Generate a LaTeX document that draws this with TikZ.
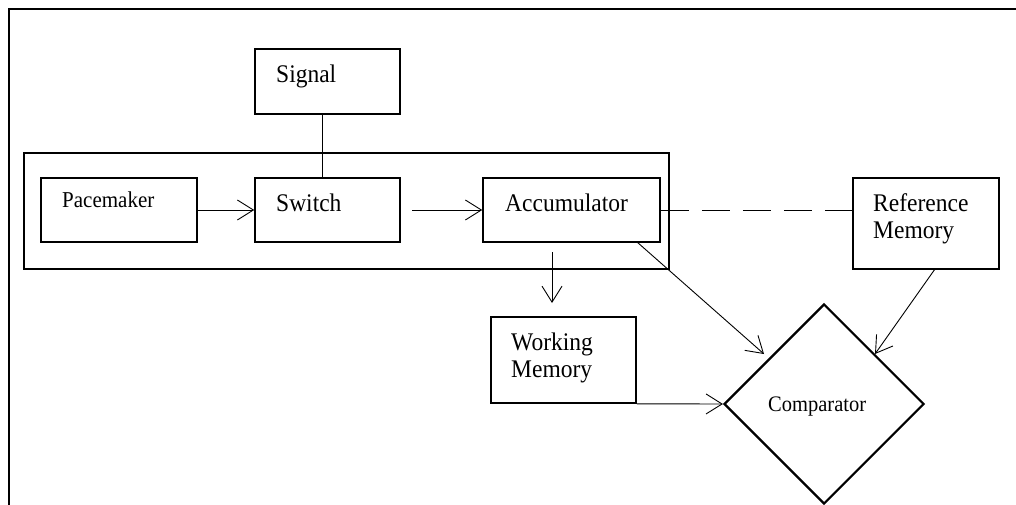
\documentclass[tikz,border=0pt]{standalone}
\usepackage{fontspec}
\usepackage{graphicx}
\setmainfont{Liberation Serif}
\usetikzlibrary{arrows.meta,shapes.geometric,calc}
\newcommand{\tallbox}[1]{\scalebox{1}[1.08]{#1}}
\begin{document}
\begin{tikzpicture}[x=1pt,y=-1pt,
  box/.style={draw, line width=1.6pt, inner sep=0pt, rectangle},
  outerbox/.style={draw, line width=2.8pt, inner sep=0pt, rectangle},
  arr/.style={line width=0.9pt, -{Straight Barb[length=16pt,width=20pt,line width=0.9pt]}},
  conn/.style={line width=0.9pt},
  lbl/.style={inner sep=0pt, anchor=base west, font=\fontsize{23.5}{27}\selectfont},
  lblsmall/.style={inner sep=0pt, anchor=base west, font=\fontsize{21}{25}\selectfont},
]
\useasboundingbox (0,0) rectangle (1016,505);
% page frame (top and left edges)
\draw[line width=2.2pt] (9,505) -- (9,9) -- (1016,9);

% outer grouping box
\node[outerbox, minimum width=645pt, minimum height=116pt] (group) at (346.5,211) {};

% boxes
\node[box, minimum width=145pt, minimum height=65pt] (signal) at (327.5,81.5) {};
\node[box, minimum width=156pt, minimum height=64pt] (pace) at (119,210) {};
\node[box, minimum width=145pt, minimum height=64pt] (switch) at (327.5,210) {};
\node[box, minimum width=177pt, minimum height=64pt] (acc) at (571.5,210) {};
\node[box, minimum width=146pt, minimum height=91pt] (ref) at (926,223.5) {};
\node[box, minimum width=145pt, minimum height=86pt] (work) at (563.5,360) {};
\node[draw, diamond, line width=2.2pt, inner sep=0pt, minimum width=200pt, minimum height=200pt] (comp) at (824,404) {};

% texts
\node[lbl] (tsignal) at (276,83) {\tallbox{Signal}};
\node[lblsmall] (tpace) at (62,207) {\tallbox{Pacemaker}};
\node[lbl] (tswitch) at (276,211) {\tallbox{Switch}};
\node[lbl] (tacc) at (505,211) {\tallbox{Accumulator}};
\node[lbl] (tref1) at (873,211) {\tallbox{Reference}};
\node[lbl] (tref2) at (873,238) {\tallbox{Memory}};
\node[lbl] (twork1) at (511,350) {\tallbox{Working}};
\node[lbl] (twork2) at (511,377) {\tallbox{Memory}};
\node[lblsmall, font=\fontsize{20.5}{25}\selectfont] (tcomp) at (768,411) {\tallbox{Comparator}};

% connector end points
\coordinate (sigdown) at ($(signal.south)+(-5.5,0)$);
\coordinate (swup) at ($(switch.north)+(-5.5,0)$);
\coordinate (swout) at (412,210);
\coordinate (accdown) at (552,252);
\coordinate (workup) at (552,303);
\coordinate (accdiag) at (637,242);
\coordinate (compul) at (764,354);
\coordinate (refdiag) at (935,269);
\coordinate (compur) at (875,354);

% connectors
\draw[conn] (sigdown) -- (swup);
\draw[arr] (pace.east) -- (switch.west);
\draw[arr] (swout) -- (acc.west);
\draw[conn, dash pattern=on 28pt off 13pt] (acc.east) -- (acc.east -| ref.west);
\draw[arr] (accdown) -- (workup);
\draw[arr] (accdiag) -- (compul);
\draw[arr] (refdiag) -- (compur);
\draw[arr] (work.south east) -- (comp.west);
\end{tikzpicture}
\end{document}
